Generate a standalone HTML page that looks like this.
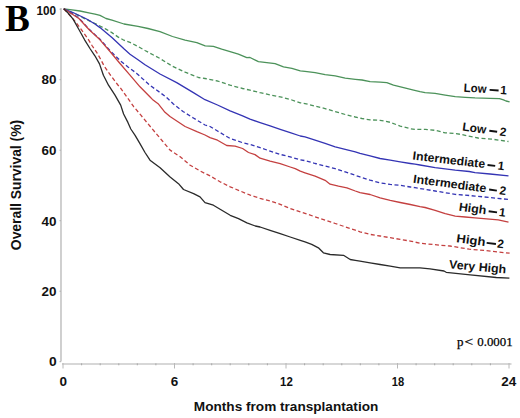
<!DOCTYPE html>
<html><head><meta charset="utf-8"><style>
html,body{margin:0;padding:0;background:#fff;}
svg{display:block;}
.tk{font-family:"Liberation Sans",sans-serif;font-weight:bold;font-size:13px;fill:#111;}
.cl{font-family:"Liberation Sans",sans-serif;font-weight:bold;font-size:12px;fill:#111;}
.ti{font-family:"Liberation Sans",sans-serif;font-weight:bold;font-size:13.5px;fill:#111;}
.bb{font-family:"Liberation Serif",serif;font-weight:bold;font-size:37px;fill:#000;}
.pv{font-family:"Liberation Serif",serif;font-size:12.5px;fill:#111;}
</style></head><body>
<svg width="520" height="418" viewBox="0 0 520 418">
<line x1="61" y1="8" x2="61" y2="361.5" stroke="#b0b0b0" stroke-width="1.2"/>
<line x1="62" y1="364.0" x2="511.5" y2="364.0" stroke="#b0b0b0" stroke-width="1.2"/>
<line x1="63.0" y1="363" x2="63.0" y2="368.5" stroke="#b8b8b8" stroke-width="1"/>
<line x1="81.6" y1="363.3" x2="81.6" y2="365.3" stroke="#a8a8a8" stroke-width="1"/>
<line x1="100.2" y1="363.3" x2="100.2" y2="365.3" stroke="#a8a8a8" stroke-width="1"/>
<line x1="118.8" y1="363.3" x2="118.8" y2="365.3" stroke="#a8a8a8" stroke-width="1"/>
<line x1="137.3" y1="363.3" x2="137.3" y2="365.3" stroke="#a8a8a8" stroke-width="1"/>
<line x1="155.9" y1="363.3" x2="155.9" y2="365.3" stroke="#a8a8a8" stroke-width="1"/>
<line x1="174.5" y1="363" x2="174.5" y2="368.5" stroke="#b8b8b8" stroke-width="1"/>
<line x1="193.1" y1="363.3" x2="193.1" y2="365.3" stroke="#a8a8a8" stroke-width="1"/>
<line x1="211.7" y1="363.3" x2="211.7" y2="365.3" stroke="#a8a8a8" stroke-width="1"/>
<line x1="230.2" y1="363.3" x2="230.2" y2="365.3" stroke="#a8a8a8" stroke-width="1"/>
<line x1="248.8" y1="363.3" x2="248.8" y2="365.3" stroke="#a8a8a8" stroke-width="1"/>
<line x1="267.4" y1="363.3" x2="267.4" y2="365.3" stroke="#a8a8a8" stroke-width="1"/>
<line x1="286.0" y1="363" x2="286.0" y2="368.5" stroke="#b8b8b8" stroke-width="1"/>
<line x1="304.6" y1="363.3" x2="304.6" y2="365.3" stroke="#a8a8a8" stroke-width="1"/>
<line x1="323.2" y1="363.3" x2="323.2" y2="365.3" stroke="#a8a8a8" stroke-width="1"/>
<line x1="341.8" y1="363.3" x2="341.8" y2="365.3" stroke="#a8a8a8" stroke-width="1"/>
<line x1="360.3" y1="363.3" x2="360.3" y2="365.3" stroke="#a8a8a8" stroke-width="1"/>
<line x1="378.9" y1="363.3" x2="378.9" y2="365.3" stroke="#a8a8a8" stroke-width="1"/>
<line x1="397.5" y1="363" x2="397.5" y2="368.5" stroke="#b8b8b8" stroke-width="1"/>
<line x1="416.1" y1="363.3" x2="416.1" y2="365.3" stroke="#a8a8a8" stroke-width="1"/>
<line x1="434.7" y1="363.3" x2="434.7" y2="365.3" stroke="#a8a8a8" stroke-width="1"/>
<line x1="453.2" y1="363.3" x2="453.2" y2="365.3" stroke="#a8a8a8" stroke-width="1"/>
<line x1="471.8" y1="363.3" x2="471.8" y2="365.3" stroke="#a8a8a8" stroke-width="1"/>
<line x1="490.4" y1="363.3" x2="490.4" y2="365.3" stroke="#a8a8a8" stroke-width="1"/>
<line x1="509.0" y1="363" x2="509.0" y2="368.5" stroke="#b8b8b8" stroke-width="1"/>
<line x1="59.5" y1="361.7" x2="61" y2="361.7" stroke="#b0b0b0" stroke-width="1"/>
<line x1="59.5" y1="291.2" x2="61" y2="291.2" stroke="#b0b0b0" stroke-width="1"/>
<line x1="59.5" y1="220.7" x2="61" y2="220.7" stroke="#b0b0b0" stroke-width="1"/>
<line x1="59.5" y1="150.2" x2="61" y2="150.2" stroke="#b0b0b0" stroke-width="1"/>
<line x1="59.5" y1="79.7" x2="61" y2="79.7" stroke="#b0b0b0" stroke-width="1"/>
<line x1="59.5" y1="9.2" x2="61" y2="9.2" stroke="#b0b0b0" stroke-width="1"/>
<text x="36.40" y="14.53" font-family='"Liberation Sans",sans-serif' font-weight="bold" font-size="13.5" fill="#111" textLength="19.56" lengthAdjust="spacingAndGlyphs">100</text>
<text x="41.50" y="84.28" font-family='"Liberation Sans",sans-serif' font-weight="bold" font-size="13.5" fill="#111" textLength="14.97" lengthAdjust="spacingAndGlyphs">80</text>
<text x="41.60" y="155.12" font-family='"Liberation Sans",sans-serif' font-weight="bold" font-size="13.5" fill="#111" textLength="14.87" lengthAdjust="spacingAndGlyphs">60</text>
<text x="41.50" y="225.62" font-family='"Liberation Sans",sans-serif' font-weight="bold" font-size="13.5" fill="#111" textLength="14.97" lengthAdjust="spacingAndGlyphs">40</text>
<text x="41.50" y="296.12" font-family='"Liberation Sans",sans-serif' font-weight="bold" font-size="13.5" fill="#111" textLength="14.97" lengthAdjust="spacingAndGlyphs">20</text>
<text x="49.05" y="366.32" font-family='"Liberation Sans",sans-serif' font-weight="bold" font-size="13.5" fill="#111" textLength="7.69" lengthAdjust="spacingAndGlyphs">0</text>
<text x="59.39" y="385.80" font-family='"Liberation Sans",sans-serif' font-weight="bold" font-size="13.5" fill="#111">0</text>
<text x="170.82" y="385.80" font-family='"Liberation Sans",sans-serif' font-weight="bold" font-size="13.5" fill="#111">6</text>
<text x="280.01" y="385.80" font-family='"Liberation Sans",sans-serif' font-weight="bold" font-size="13.5" fill="#111" textLength="12.78" lengthAdjust="spacingAndGlyphs">12</text>
<text x="391.83" y="385.80" font-family='"Liberation Sans",sans-serif' font-weight="bold" font-size="13.5" fill="#111" textLength="12.43" lengthAdjust="spacingAndGlyphs">18</text>
<text x="501.31" y="385.80" font-family='"Liberation Sans",sans-serif' font-weight="bold" font-size="13.5" fill="#111">24</text>
<text x="193.85" y="410.50" font-family='"Liberation Sans",sans-serif' font-weight="bold" font-size="13.5" fill="#111" textLength="184.44" lengthAdjust="spacingAndGlyphs">Months from transplantation</text>
<g transform="translate(21.0 249.60) rotate(-90)"><text x="-0.55" y="0" font-family='"Liberation Sans",sans-serif' font-weight="bold" font-size="14" fill="#111" textLength="130.29" lengthAdjust="spacingAndGlyphs">Overall Survival (%)</text></g>
<text x="4.95" y="30.70" font-family='"Liberation Serif",serif' font-weight="bold" font-size="38" fill="#000" textLength="24.85" lengthAdjust="spacingAndGlyphs">B</text>
<text x="457.04" y="346.00" font-family='"Liberation Serif",serif' font-weight="normal" font-size="13" fill="#000" stroke="#000" stroke-width="0.25">p</text>
<text x="464.63" y="346.00" font-family='"Liberation Serif",serif' font-weight="normal" font-size="13" fill="#000" textLength="8.64" lengthAdjust="spacingAndGlyphs" stroke="#000" stroke-width="0.25">&lt;</text>
<text x="477.29" y="346.00" font-family='"Liberation Serif",serif' font-weight="normal" font-size="13" fill="#000" textLength="35.39" lengthAdjust="spacingAndGlyphs" stroke="#000" stroke-width="0.25">0.0001</text>
<polyline points="63.8,8.8 72.0,9.9 80.0,11.0 90.0,13.2 95.0,14.2 100.0,15.4 106.0,18.5 112.0,20.2 124.0,24.0 138.0,26.3 148.0,28.5 160.0,31.7 172.5,36.5 185.1,40.1 196.8,42.6 205.2,45.9 213.4,46.4 221.7,49.2 230.1,51.7 238.4,54.2 246.8,57.6 250.0,57.5 258.4,61.7 266.8,62.6 275.1,63.7 283.5,66.8 291.9,68.4 300.3,70.9 305.0,71.4 315.1,72.6 325.1,74.7 335.2,75.9 345.2,78.1 355.3,79.3 362.0,80.0 370.1,81.7 380.1,82.1 386.8,82.6 393.5,85.1 403.6,87.6 413.6,90.1 420.0,91.7 425.1,92.6 435.1,93.4 445.2,95.1 455.2,96.6 465.3,97.3 475.0,97.9 490.0,98.3 499.5,98.7 503.5,99.9 506.0,101.0 509.6,101.8" fill="none" stroke="#4c925a" stroke-width="1.3" stroke-linejoin="round"/>
<polyline points="63.8,8.8 75.0,13.8 85.0,18.8 94.0,23.0 100.0,26.0 105.9,29.1 111.9,32.6 117.9,36.9 123.9,40.2 129.9,42.3 138.0,46.5 145.0,50.5 153.4,55.0 160.0,58.5 172.5,66.3 185.1,72.2 198.5,77.5 205.0,78.5 217.5,81.0 230.1,85.2 242.6,88.5 250.0,90.2 260.1,92.7 270.1,94.9 280.2,96.9 290.2,99.4 300.3,102.8 305.0,103.6 315.1,106.1 325.1,108.6 335.2,111.6 345.2,114.5 355.3,117.0 362.0,118.5 370.1,119.9 380.1,120.3 390.2,122.3 400.2,126.1 410.3,128.7 415.0,129.4 425.1,129.4 435.1,130.3 445.2,132.8 455.2,133.6 461.9,134.5 468.6,136.1 478.1,138.0 492.3,139.2 508.5,141.5" fill="none" stroke="#4c925a" stroke-width="1.3" stroke-linejoin="round" stroke-dasharray="4 2.5"/>
<polyline points="63.8,8.8 74.0,13.0 84.6,18.0 88.0,19.8 94.9,24.0 100.0,27.6 108.0,34.3 111.9,37.6 123.9,48.8 130.0,54.2 138.0,59.8 145.0,64.8 160.0,74.0 176.7,82.6 193.4,92.6 205.0,99.7 217.5,105.0 230.1,110.9 242.6,115.9 250.0,119.2 260.1,122.6 270.1,125.9 280.2,129.3 290.2,132.6 300.3,136.0 305.0,136.9 315.1,140.1 325.1,143.4 335.2,146.8 345.2,149.3 355.3,151.8 360.0,153.4 370.1,155.9 380.1,158.5 390.2,160.1 400.2,161.8 410.3,163.5 415.0,164.2 420.0,165.0 435.1,167.6 455.2,170.1 469.2,171.5 475.0,172.6 490.0,174.0 508.5,175.8" fill="none" stroke="#3434b4" stroke-width="1.3" stroke-linejoin="round"/>
<polyline points="63.8,8.8 72.0,13.6 78.9,18.0 89.2,29.3 100.0,39.3 110.0,50.5 120.0,60.5 128.0,67.0 136.7,73.4 149.5,85.0 160.0,92.5 166.0,97.0 173.4,104.0 183.0,111.5 193.4,118.0 205.0,125.0 210.0,126.5 217.5,131.0 230.1,138.5 242.6,142.7 250.0,144.4 260.1,147.7 270.1,151.1 280.2,154.4 290.2,156.9 300.3,159.8 305.0,160.6 315.1,163.5 325.1,166.1 335.2,168.6 345.2,171.9 355.3,175.3 360.0,176.9 370.1,180.2 380.1,182.8 390.2,184.4 400.2,185.3 410.3,187.0 415.0,187.7 435.1,191.0 455.2,194.4 469.2,195.5 475.0,196.1 490.0,197.5 508.5,199.5" fill="none" stroke="#3434b4" stroke-width="1.3" stroke-linejoin="round" stroke-dasharray="4 2.5"/>
<polyline points="63.8,8.8 72.0,14.0 78.9,18.5 89.2,29.7 100.0,39.8 110.0,51.5 120.0,63.5 130.0,75.1 140.0,86.8 150.1,97.0 152.4,99.4 158.1,103.7 165.0,112.3 170.0,116.5 185.1,126.5 196.9,131.7 205.0,135.0 210.0,137.6 217.5,140.2 226.7,145.5 235.1,146.2 242.6,148.5 248.5,152.5 255.0,154.6 260.1,158.2 270.1,161.1 280.2,163.6 290.2,167.0 295.2,168.7 300.3,171.2 305.0,172.8 315.1,176.1 325.1,180.3 330.1,184.2 338.5,186.2 346.9,187.8 355.3,191.0 360.0,192.6 370.1,194.5 380.1,197.8 390.2,200.4 400.2,202.5 410.3,204.5 420.0,206.6 425.1,207.5 435.1,210.3 445.2,213.7 455.2,216.2 465.3,217.0 475.0,217.8 498.2,219.9 508.5,222.2" fill="none" stroke="#c44040" stroke-width="1.3" stroke-linejoin="round"/>
<polyline points="63.8,8.8 70.0,15.5 76.0,22.5 82.0,30.5 88.0,39.0 92.0,45.5 96.7,52.4 100.5,59.0 104.1,65.9 110.0,74.5 117.9,85.0 120.0,87.3 126.5,96.5 133.7,106.6 140.9,115.2 148.0,123.8 155.2,132.4 162.4,141.0 170.1,150.1 180.2,156.8 190.2,165.2 200.3,171.1 210.1,175.9 220.1,181.8 230.2,186.8 240.2,191.0 250.3,195.2 260.1,198.4 270.1,200.9 280.2,204.3 290.2,208.5 300.3,211.8 305.0,213.4 315.1,216.8 325.1,220.1 335.2,223.5 345.2,226.8 355.3,230.2 360.0,231.8 370.1,234.4 380.1,236.0 390.2,237.7 400.2,239.4 410.3,241.1 420.0,243.2 446.2,245.8 450.0,246.0 469.2,249.2 479.8,250.0 509.6,253.2" fill="none" stroke="#c44040" stroke-width="1.3" stroke-linejoin="round" stroke-dasharray="4 2.5"/>
<polyline points="63.8,8.8 68.5,13.5 73.1,19.1 78.9,29.5 84.6,39.8 90.3,49.0 94.9,55.8 99.5,63.9 103.4,75.2 108.5,85.2 115.0,95.1 120.7,105.1 123.6,114.0 127.9,122.4 130.8,129.0 135.1,135.3 140.1,143.9 145.0,152.5 150.0,160.2 160.1,167.7 170.1,177.0 178.5,183.7 183.5,189.5 193.6,193.7 200.0,196.9 205.0,202.7 213.4,205.2 221.8,210.3 230.2,215.3 238.5,218.7 246.9,222.8 255.3,226.0 260.1,227.0 270.1,230.3 280.2,233.6 290.2,237.0 300.3,240.3 305.0,241.9 311.7,244.4 318.4,247.8 323.4,252.8 330.1,254.5 343.5,255.3 350.2,259.5 355.3,260.4 360.0,261.2 370.1,262.8 380.1,264.5 390.2,266.2 400.2,267.9 410.3,267.9 420.0,267.9 430.0,268.8 444.0,271.0 446.2,272.3 470.2,274.9 496.3,277.5 509.4,278.2" fill="none" stroke="#2a2a2a" stroke-width="1.3" stroke-linejoin="round"/>
<g transform="translate(464.0 91.7) rotate(3.5)" font-family='"Liberation Sans",sans-serif' font-weight="bold" font-size="12" fill="#111"><text x="-0.40" y="0" textLength="22.73" lengthAdjust="spacingAndGlyphs">Low</text><rect x="25.45" y="-4.3" width="9.02" height="1.9"/><text x="36.03" y="0">1</text></g>
<g transform="translate(462.5 130.6) rotate(7.5)" font-family='"Liberation Sans",sans-serif' font-weight="bold" font-size="12" fill="#111"><text x="-0.44" y="0" textLength="23.94" lengthAdjust="spacingAndGlyphs">Low</text><rect x="26.62" y="-4.3" width="7.87" height="1.9"/><text x="37.15" y="0">2</text></g>
<g transform="translate(412.8 159.6) rotate(6.7)" font-family='"Liberation Sans",sans-serif' font-weight="bold" font-size="12" fill="#111"><text x="-0.46" y="0" textLength="72.80" lengthAdjust="spacingAndGlyphs">Intermediate</text><rect x="74.81" y="-4.3" width="7.76" height="1.9"/><text x="85.01" y="0">1</text></g>
<g transform="translate(413.3 182.8) rotate(7.6)" font-family='"Liberation Sans",sans-serif' font-weight="bold" font-size="12" fill="#111"><text x="-0.47" y="0" textLength="73.56" lengthAdjust="spacingAndGlyphs">Intermediate</text><rect x="76.06" y="-4.3" width="7.78" height="1.9"/><text x="86.54" y="0">2</text></g>
<g transform="translate(458.9 210.7) rotate(7.5)" font-family='"Liberation Sans",sans-serif' font-weight="bold" font-size="12" fill="#111"><text x="-0.47" y="0" textLength="27.67" lengthAdjust="spacingAndGlyphs">High</text><rect x="29.55" y="-4.3" width="8.48" height="1.9"/><text x="39.83" y="0">1</text></g>
<g transform="translate(456.6 242.3) rotate(7.4)" font-family='"Liberation Sans",sans-serif' font-weight="bold" font-size="12" fill="#111"><text x="-0.52" y="0" textLength="29.16" lengthAdjust="spacingAndGlyphs">High</text><rect x="29.85" y="-4.3" width="9.38" height="1.9"/><text x="40.57" y="0">2</text></g>
<g transform="translate(448.6 268.3) rotate(5.0)" font-family='"Liberation Sans",sans-serif' font-weight="bold" font-size="12" fill="#111"><text x="0.28" y="0" textLength="57.22" lengthAdjust="spacingAndGlyphs">Very High</text></g>
</svg>
</body></html>
